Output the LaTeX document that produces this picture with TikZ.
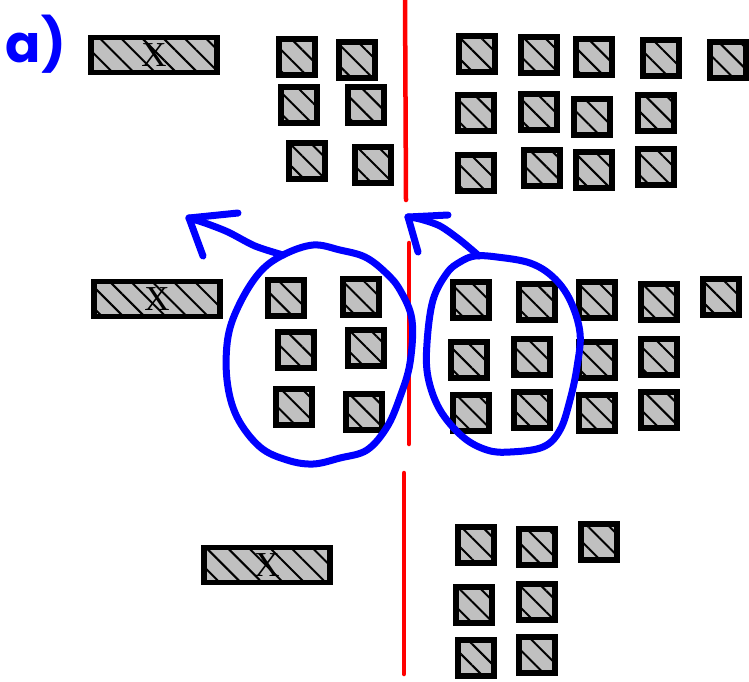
\documentclass[tikz,border=0pt]{standalone}
\usepackage{fontspec}
\newfontfamily\handfont{Poppins}
\newfontfamily\boxfont{Liberation Serif}
\usepackage{xcolor}
\usetikzlibrary{arrows.meta}
\usetikzlibrary{patterns.meta, positioning}
\definecolor{boxgray}{RGB}{192,192,192}
\tikzset{
    blk/.style={draw, line width=5.5pt, fill=boxgray, inner sep=0pt, minimum size=36pt,
        postaction={pattern={Lines[angle=-45, distance=15pt, line width=2pt]}}},
    bar/.style={blk, minimum width=126pt, minimum height=35pt,
        font=\boxfont\fontsize{35}{35}\selectfont},
    divider/.style={red, line width=4.5pt, line cap=round},
    loop/.style={blue, line width=7pt, line cap=round, line join=round},
}
\begin{document}
\begin{tikzpicture}[x=1pt, y=-1pt]
    \useasboundingbox (0,0) rectangle (749,681);
    \node[text=blue, font=\handfont\bfseries\fontsize{52}{52}\selectfont] (lbl) at (36,44) {a)};
    % first row
    \node[bar] (xa) at (154,55) {X};
    \foreach \x/\y [count=\i] in {297/57, 357/60, 299/105, 366/105, 307/161, 373/165}
        \node[blk] (ul\i) at (\x,\y) {};
    \foreach \x/\y [count=\i] in {477/54, 539/55, 594/57, 661/58, 728/60,
        476/113, 539/112, 592/117, 656/113, 476/173, 542/168, 594/170, 656/167}
        \node[blk] (ur\i) at (\x,\y) {};
    % second row
    \node[bar] (xb) at (157,299) {X};
    \foreach \x/\y [count=\i] in {286/298, 361/297, 296/350, 366/348, 294/407, 364/412}
        \node[blk] (ml\i) at (\x,\y) {};
    \foreach \x/\y [count=\i] in {471/300, 537/302, 597/300, 659/302, 721/297,
        469/360, 532/357, 597/360, 659/357, 471/413, 532/410, 597/413, 659/410}
        \node[blk] (mr\i) at (\x,\y) {};
    % third row
    \node[bar] (xc) at (267,565) {X};
    \foreach \x/\y [count=\i] in {476/545, 537/547, 599/542, 474/605, 537/602, 476/658, 537/655}
        \node[blk] (lr\i) at (\x,\y) {};
    % dividers
    \draw[divider] (405,-4) -- (406,200);
    \draw[divider] (409,243) -- (409,444);
    \draw[divider] (404,473) -- (404,674);
    % loops
    \draw[loop] plot[smooth cycle, tension=0.6] coordinates {(283,255) (313,245) (340,250)
        (365,257) (385,272) (400,290) (412,320) (410,363) (400,397) (387,427) (367,450)
        (340,458) (313,464) (287,460) (260,447) (237,417) (227,380) (228,337) (240,303) (260,272)};
    \draw[loop] plot[smooth cycle, tension=0.6] coordinates {(475,256) (497,257) (530,263)
        (553,277) (570,300) (580,333) (577,367) (570,400) (560,430) (543,447) (510,452)
        (487,450) (463,437) (440,410) (428,377) (427,343) (433,300) (447,273) (460,262)};
    % arrows
    \coordinate (lstart) at (283,255);
    \coordinate (ltip) at (189,218);
    \coordinate (rstart) at (479,256);
    \coordinate (rtip) at (408,217);
    \draw[loop] plot[smooth] coordinates {(lstart) (255,246) (228,232) (205,223) (ltip)};
    \draw[loop] (ltip) -- (238,213);
    \draw[loop] (ltip) -- (203,256);
    \draw[loop] plot[smooth] coordinates {(rstart) (460,240) (440,226) (420,219) (rtip)};
    \draw[loop] (rtip) -- (448,215);
    \draw[loop] (rtip) -- (418,252);
\end{tikzpicture}
\end{document}
